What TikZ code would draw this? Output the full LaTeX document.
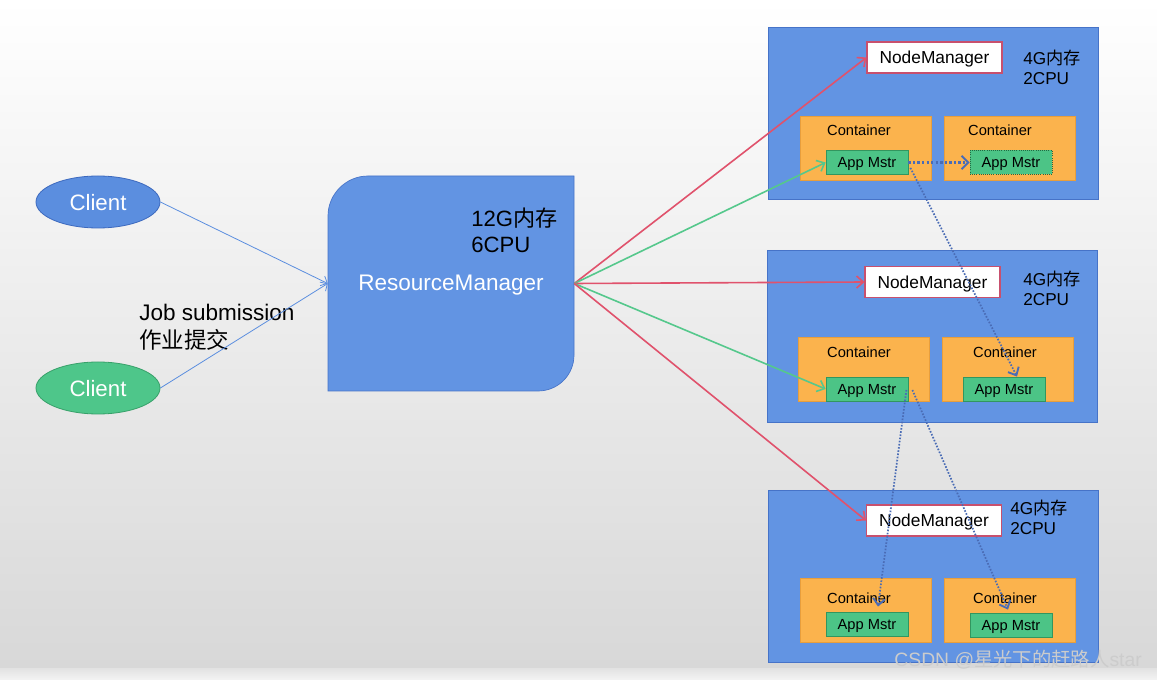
\documentclass[tikz,border=0pt]{standalone}
\usepackage{fontspec}
\setmainfont{Liberation Sans}
\newfontfamily\cjk{Noto Sans CJK SC}
\usetikzlibrary{arrows.meta,calc,shapes.geometric}
\definecolor{boxblue}{RGB}{98,148,227}
\definecolor{boxborder}{RGB}{70,115,200}
\definecolor{cblue}{RGB}{91,142,223}
\definecolor{cblueb}{RGB}{60,105,190}
\definecolor{cgreen}{RGB}{78,198,138}
\definecolor{cgreenb}{RGB}{55,160,105}
\definecolor{corange}{RGB}{251,179,77}
\definecolor{corangeb}{RGB}{232,158,60}
\definecolor{amgreen}{RGB}{76,196,134}
\definecolor{amgreenb}{RGB}{50,150,95}
\definecolor{nmborder}{RGB}{200,80,110}
\definecolor{redarr}{RGB}{224,82,108}
\definecolor{greenarr}{RGB}{85,200,140}
\definecolor{dotblue}{RGB}{74,108,181}
\definecolor{bgbottom}{RGB}{216,216,216}
\begin{document}
\begin{tikzpicture}[x=0.75pt,y=-0.75pt,
  pxbox/.style 2 args={rectangle,inner sep=0pt,minimum width=#1*0.75pt,minimum height=#2*0.75pt},
  bigbox/.style={pxbox={330}{172},fill=boxblue,draw=boxborder,line width=0.6pt},
  nmbox/.style={pxbox={135}{31},fill=white,draw=nmborder,line width=0.8pt,font=\fontsize{13}{15}\selectfont,text depth=0pt},
  contbox/.style={pxbox={131}{64},fill=corange,draw=corangeb,line width=0.5pt},
  conttext/.style={font=\fontsize{11}{13}\selectfont,inner sep=0pt},
  ambox/.style={pxbox={82}{24},fill=amgreen,draw=amgreenb,line width=0.6pt,font=\fontsize{11}{13}\selectfont,text depth=0pt},
  restext/.style={font=\fontsize{12.9}{15}\selectfont,align=left,anchor=west,inner sep=0pt},
  clientnode/.style={ellipse,inner sep=0pt,minimum width=124*0.75pt,minimum height=52*0.75pt,line width=0.6pt,text=white,font=\fontsize{16.7}{18}\selectfont,text depth=0pt},
  redarrow/.style={draw=redarr,line width=1.2pt,-{Straight Barb[length=5pt,width=9pt,line width=1.2pt]}},
  greenarrow/.style={draw=greenarr,line width=1.2pt,-{Straight Barb[length=5pt,width=9pt,line width=1.2pt]}},
  bluearrow/.style={draw=cblue,line width=0.6pt,-{Straight Barb[length=4pt,width=8pt,line width=0.6pt]}},
  dotarrow/.style={draw=dotblue,line width=1.3pt,dash pattern=on 1.2pt off 1.2pt,-{Straight Barb[length=5pt,width=9pt,line width=1.4pt]}},
  dotarrowthick/.style={draw=dotblue,line width=1.8pt,dash pattern=on 1.8pt off 1.6pt,-{Straight Barb[length=5pt,width=10pt,line width=1.5pt]}}
]
\useasboundingbox (0,0) rectangle (1157,680);
% background
\shade[top color=white,bottom color=bgbottom] (0,0) rectangle (1157,668);
\shade[top color={rgb,255:red,226;green,226;blue,226},bottom color={rgb,255:red,244;green,244;blue,244}] (0,668) rectangle (1157,680);

% clients
\node[clientnode,fill=cblue,draw=cblueb] (cl1) at (98,202) {Client};
\node[clientnode,fill=cgreen,draw=cgreenb] (cl2) at (98,388) {Client};
\node[font=\fontsize{16.9}{21}\selectfont,align=left,anchor=west,inner sep=0pt] (job) at (139,327) {Job submission\\{\cjk 作业提交}};

% resource manager
\node[pxbox={246}{215}] (rm) at (451,283.5) {};
\fill[boxblue] (328,391) -- (328,216) .. controls (328,194) and (346,176) .. (368,176) -- (574,176) -- (574,355) .. controls (574,375) and (558,391) .. (538,391) -- cycle;
\draw[boxborder,line width=0.5pt] (328,391) -- (328,216) .. controls (328,194) and (346,176) .. (368,176) -- (574,176) -- (574,355) .. controls (574,375) and (558,391) .. (538,391) -- cycle;
\node[font=\fontsize{16.9}{18}\selectfont,text=white,inner sep=0pt,text depth=0pt] (rmtext) at (451,283) {ResourceManager};
\node[font=\fontsize{16.6}{19.5}\selectfont,align=left,anchor=west,inner sep=0pt] (rmres) at (471,230) {12G{\cjk 内存}\\6CPU};

% node box 1
\node[bigbox] (b1) at (933,113.5) {};
\node[nmbox] (nm1) at (934.5,57.5) {NodeManager};
\node[restext] (r1) at (1023,67) {4G{\cjk 内存}\\2CPU};
\node[contbox] (c11) at (866,148) {};
\node[conttext] (t11) at (859,130) {Container};
\node[ambox] (am11) at (867,162.5) {App Mstr};
\node[contbox] (c12) at (1009.5,148) {};
\node[conttext] (t12) at (1000,130) {Container};
\node[ambox,draw=amgreenb!70!black,densely dotted] (am12) at (1011,162.5) {App Mstr};

% node box 2
\node[bigbox] (b2) at (932,336) {};
\node[nmbox] (nm2) at (932.5,282) {NodeManager};
\node[restext] (r2) at (1023,288) {4G{\cjk 内存}\\2CPU};
\node[contbox] (c21) at (864,369) {};
\node[conttext] (t21) at (859,352) {Container};
\node[ambox] (am21) at (867,389) {App Mstr};
\node[contbox] (c22) at (1008,369) {};
\node[conttext] (t22) at (1005,352) {Container};
\node[ambox] (am22) at (1004,389) {App Mstr};

% node box 3
\node[bigbox] (b3) at (933,576) {};
\node[nmbox] (nm3) at (934,520.5) {NodeManager};
\node[restext] (r3) at (1010,517) {4G{\cjk 内存}\\2CPU};
\node[contbox] (c31) at (865.5,610) {};
\node[conttext] (t31) at (859,598) {Container};
\node[ambox] (am31) at (867,624) {App Mstr};
\node[contbox] (c32) at (1009.5,610) {};
\node[conttext] (t32) at (1005,598) {Container};
\node[ambox] (am32) at (1011,625) {App Mstr};

% client arrows
\draw[bluearrow] (cl1.east) -- (rm.west);
\draw[bluearrow] (cl2.east) -- (rm.west);

% RM arrows
\draw[redarrow] (rm.east) -- (nm1.west);
\draw[greenarrow] (rm.east) -- (am11.west);
\draw[redarrow] (rm.east) -- (nm2.west);
\draw[greenarrow] (rm.east) -- (am21.west);
\draw[redarrow] (rm.east) -- (nm3.west);

% dotted arrows
\draw[dotarrowthick] (am11.east) -- (am12.west);
\draw[dotarrow] ($(am11.south east)+(2,-7)$) -- ($(am22.north)+(13,0)$);
\draw[dotarrow] ($(am21.east)+(-2,1)$) -- ($(am31.north)+(11,-5)$);
\draw[dotarrow] ($(am21.east)+(4,1)$) -- ($(am32.north)+(-3,-3)$);

% watermark
\node[font=\fontsize{14.5}{16}\selectfont,text=gray!40,anchor=east,inner sep=0pt] (wm) at (1142,660) {CSDN @{\cjk 星光下的赶路人}star};
\end{tikzpicture}
\end{document}
